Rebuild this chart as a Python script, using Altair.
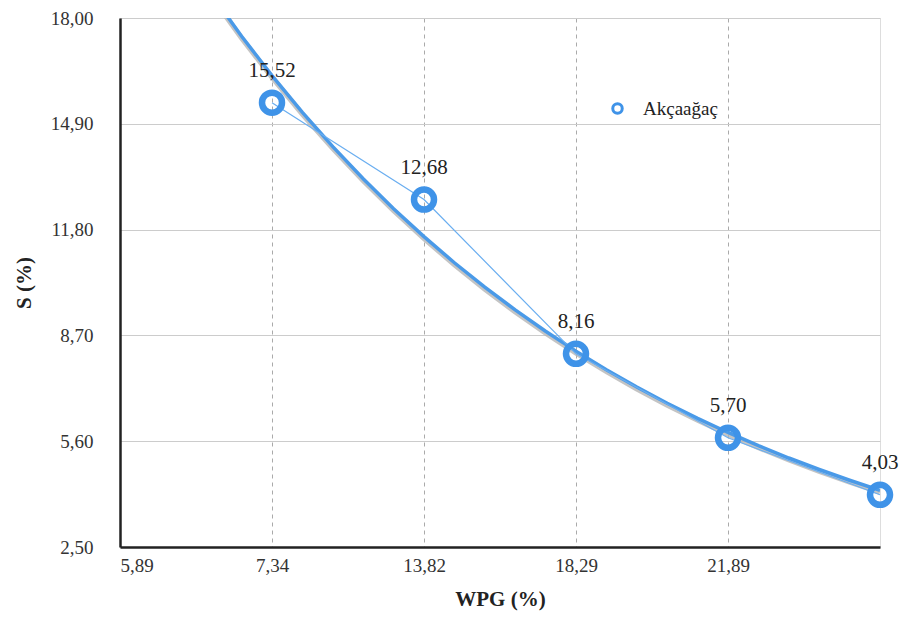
import json
import altair as alt
import pandas as pd

# Data
x_labels = ["5,89", "7,34", "13,82", "18,29", "21,89"]   # WPG (%) category labels
x_pos = [1, 2, 3, 4, 5]                                   # category positions of points
s_values = [15.52, 12.68, 8.16, 5.70, 4.03]               # S (%)
y_ticks = [2.50, 5.60, 8.70, 11.80, 14.90, 18.00]
series_name = "Akçaağaç"

df = pd.DataFrame({
    "x": x_pos,
    "y": s_values,
    "label": [f"{v:.2f}".replace(".", ",") for v in s_values],
    "series": [series_name] * len(s_values),
})

BLUE = "#3f93e8"
FONT = "'Liberation Serif', 'DejaVu Serif', serif"

x_enc = alt.X(
    "x:Q",
    scale=alt.Scale(domain=[0, 5], nice=False, zero=False),
    axis=alt.Axis(
        values=list(range(len(x_labels))),
        labelExpr=f"{json.dumps(x_labels)}[datum.value]",
        title="WPG (%)",
        grid=True, gridDash=[4, 4], gridColor="#aaaaaa", gridWidth=1,
        ticks=False, domainColor="#222222", domainWidth=2.5,
        labelFont=FONT, labelFontSize=19, labelColor="#333333", labelPadding=9,
        titleFont=FONT, titleFontSize=21, titleFontWeight="bold", titleColor="#222222",
        titlePadding=13,
    ),
)
y_enc = alt.Y(
    "y:Q",
    scale=alt.Scale(domain=[2.5, 18], nice=False, zero=False),
    axis=alt.Axis(
        values=y_ticks,
        labelExpr="replace(format(datum.value, '.2f'), '.', ',')",
        title="S (%)",
        grid=True, gridColor="#cccccc", gridWidth=1,
        ticks=False, domainColor="#222222", domainWidth=2.5,
        labelFont=FONT, labelFontSize=19, labelColor="#333333", labelPadding=27,
        titleFont=FONT, titleFontSize=21, titleFontWeight="bold", titleColor="#222222",
        titlePadding=16,
    ),
)

base = alt.Chart(df)

trend_shadow = base.transform_regression("x", "y", method="exp", extent=[0, 5]).mark_line(
    color="#b5b5b5", strokeWidth=5, clip=True, yOffset=2, opacity=0.8
).encode(x=x_enc, y=y_enc)

trend = base.transform_regression("x", "y", method="exp", extent=[0, 5]).mark_line(
    color="#4a9ae8", strokeWidth=3.5, clip=True
).encode(x=x_enc, y=y_enc)

connect = base.mark_line(color="#6aaef0", strokeWidth=1.2).encode(x=x_enc, y=y_enc)

points = base.mark_point(
    shape="circle", size=400, strokeWidth=6.5, filled=False, opacity=1
).encode(
    x=x_enc, y=y_enc,
    color=alt.Color(
        "series:N",
        scale=alt.Scale(domain=[series_name], range=[BLUE]),
        legend=alt.Legend(
            title=None, orient="none", legendX=488, legendY=81,
            labelFont=FONT, labelFontSize=19, labelColor="#222222",
            symbolType="circle", symbolSize=90, symbolStrokeWidth=3,
            symbolFillColor="white", labelOffset=16,
        ),
    ),
)

labels = base.mark_text(
    font=FONT, fontSize=21, color="#222222", dy=-32
).encode(x=x_enc, y=y_enc, text="label:N")

chart = alt.layer(trend_shadow, trend, connect, points, labels).properties(
    width=760, height=529,
    autosize=alt.AutoSizeParams(type="none"),
    padding={"left": 112, "top": 10, "right": 19, "bottom": 64},
).configure_view(stroke="#222222", strokeWidth=2).configure(background="white", font=FONT)

chart.save("out.html", embed_options={"renderer": "svg", "actions": False})
